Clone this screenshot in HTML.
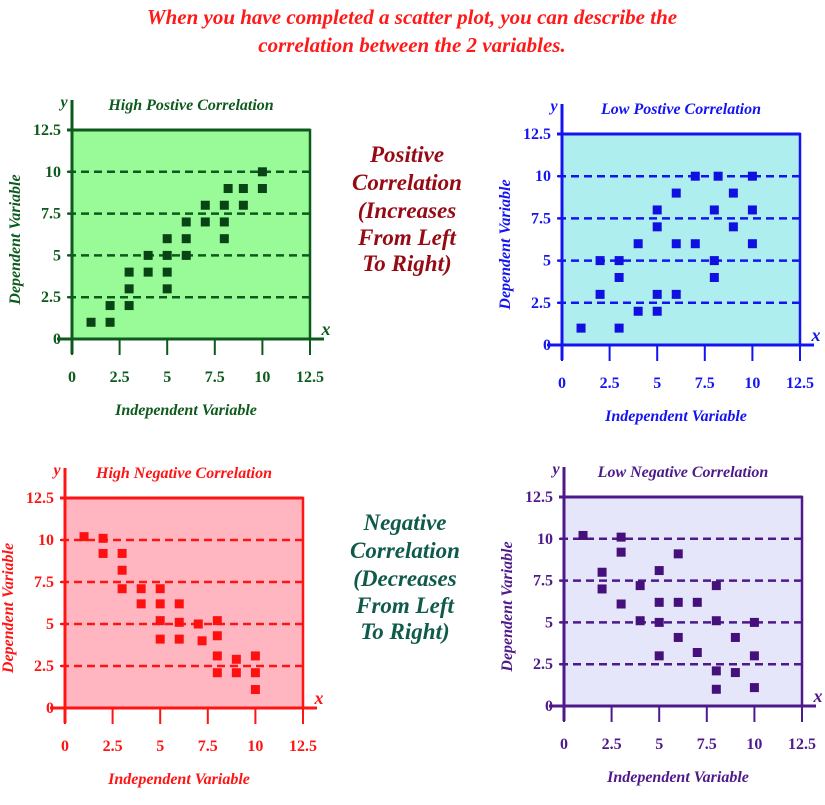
<!DOCTYPE html>
<html><head><meta charset="utf-8"><style>
body{margin:0;background:#fff;width:825px;height:800px;overflow:hidden}
text{font-family:"Liberation Serif",serif !important;font-weight:700 !important}
</style></head><body>
<svg id="s" width="825" height="800" xmlns="http://www.w3.org/2000/svg" font-family="Liberation Serif, serif" font-weight="bold">
<text x="412" y="24" text-anchor="middle" font-size="21" font-style="italic" fill="#ff1a1a">When you have completed a scatter plot, you can describe the</text>
<text x="412" y="52" text-anchor="middle" font-size="21" font-style="italic" fill="#ff1a1a">correlation between the 2 variables.</text>
<g font-size="23" font-style="italic" fill="#960a14" text-anchor="middle">
<text x="407" y="162">Positive</text><text x="407" y="190">Correlation</text><text x="407" y="218">(Increases</text><text x="407" y="245">From Left</text><text x="407" y="271">To Right)</text></g>
<g font-size="23" font-style="italic" fill="#0f5a4a" text-anchor="middle">
<text x="405" y="530">Negative</text><text x="405" y="558">Correlation</text><text x="405" y="586">(Decreases</text><text x="405" y="613">From Left</text><text x="405" y="639">To Right)</text></g>
</svg>
<script>
const S=document.getElementById('s');
function el(t,a,txt){const e=document.createElementNS('http://www.w3.org/2000/svg',t);for(const k in a)e.setAttribute(k,a[k]);if(txt!==undefined){e.textContent=txt;e.setAttribute('font-weight','bold');}S.appendChild(e);return e;}
function chart(L,T,R,B,fill,col,mk,title,pts){
 el('rect',{x:L,y:T,width:R-L,height:B-T,fill:fill,stroke:col,'stroke-width':2.5});
 const sx=(R-L)/12.5,sy=(B-T)/12.5;
 [2.5,5,7.5,10].forEach(v=>{const y=B-v*sy;el('line',{x1:L-4,y1:y,x2:R+2,y2:y,stroke:col,'stroke-width':2.5,'stroke-dasharray':'8,5'});});
 el('line',{x1:L,y1:T-30,x2:L,y2:B+15,stroke:col,'stroke-width':3});
 el('line',{x1:L-15,y1:B,x2:R+14,y2:B,stroke:col,'stroke-width':3});
 el('line',{x1:L-5,y1:T,x2:R,y2:T,stroke:col,'stroke-width':3});
 ['0','2.5','5','7.5','10','12.5'].forEach((l,i)=>{
  const x=L+i*2.5*sx;el('line',{x1:x,y1:B,x2:x,y2:B+16,stroke:col,'stroke-width':2});
  el('text',{x:x,y:B+43,'text-anchor':'middle','font-size':16,fill:col},l);
  const y=B-i*2.5*sy;el('line',{x1:L-5,y1:y,x2:L,y2:y,stroke:col,'stroke-width':2});
  el('text',{x:L-11,y:y+5,'text-anchor':'end','font-size':16,fill:col},l);
 });
 el('text',{x:L-8,y:T-23,'font-size':16,'font-style':'italic',fill:col,'text-anchor':'middle'},'y');
 el('text',{x:R+16,y:B-4,'font-size':18,'font-style':'italic',fill:col,'text-anchor':'middle'},'x');
 el('text',{x:(L+R)/2,y:T-20,'font-size':16,'font-style':'italic',fill:col,'text-anchor':'middle'},title);
 el('text',{x:(L+R)/2-5,y:B+76,'font-size':16,'font-style':'italic',fill:col,'text-anchor':'middle'},'Independent Variable');
 const cy=(T+B)/2+5;
 el('text',{x:0,y:0,'font-size':16,'font-style':'italic',fill:col,'text-anchor':'middle',transform:`translate(${L-52},${cy}) rotate(-90)`},'Dependent Variable');
 pts.forEach(p=>{el('rect',{x:L+p[0]*sx-4.5,y:B-p[1]*sy-4.5,width:9,height:9,fill:mk});});
}
chart(72,130,310,339,'#98fb98','#0d5a1c','#084414','High Postive Correlation',
[[1,1],[2,1],[2,2],[3,2],[3,3],[3,4],[4,4],[4,5],[5,3],[5,4],[5,5],[5,6],[6,5],[6,6],[6,7],[7,7],[7,8],[8,6],[8,7],[8,8],[8.2,9],[9,8],[9,9],[10,9],[10,10]]);
chart(562,134,800,345,'#afeeee','#1414f0','#1010e0','Low Postive Correlation',
[[1,1],[2,3],[2,5],[3,1],[3,4],[3,5],[4,2],[4,6],[5,2],[5,3],[5,7],[5,8],[6,3],[6,6],[6,9],[7,6],[7,10],[8,4],[8,5],[8,8],[8.2,10],[9,7],[9,9],[10,6],[10,8],[10,10]]);
chart(65,498,303,708,'#ffb6c1','#ff1414','#ff1010','High Negative Correlation',
[[1,10.2],[2,10.1],[2,9.2],[3,9.2],[3,8.2],[3,7.1],[4,7.1],[4,6.2],[5,7.1],[5,6.2],[5,5.2],[5,4.1],[6,6.2],[6,5.1],[6,4.1],[7,5],[7.2,4],[8,5.2],[8,4.3],[8,3.1],[8,2.1],[9,2.9],[9,2.1],[10,3.1],[10,2.1],[10,1.1]]);
chart(564,497,802,706,'#e6e6fa','#4e1a8a','#45107a','Low Negative Correlation',
[[1,10.2],[2,8],[2,7],[3,10.1],[3,9.2],[3,6.1],[4,7.2],[4,5.1],[5,8.1],[5,6.2],[5,5],[5,3],[6,9.1],[6,6.2],[6,4.1],[7,6.2],[7,3.2],[8,7.2],[8,5.1],[8,2.1],[8,1],[9,4.1],[9,2],[10,5],[10,3],[10,1.1]]);
</script>
</body></html>
